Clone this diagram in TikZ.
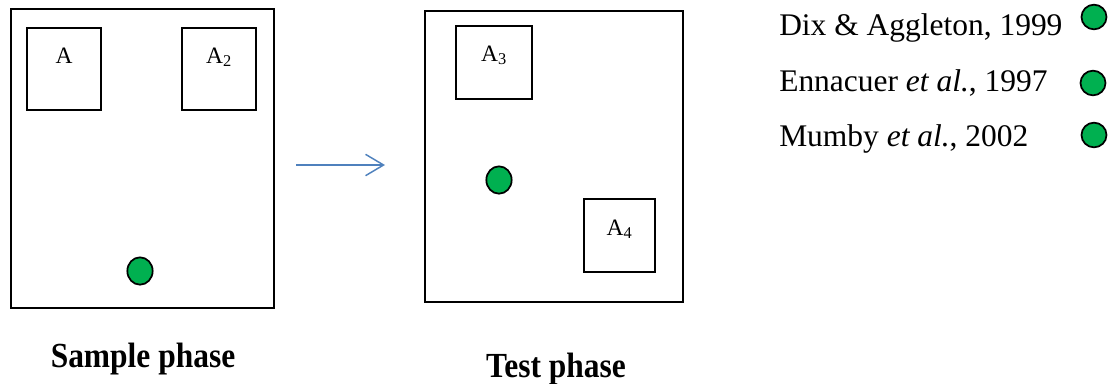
\documentclass[tikz,border=0pt]{standalone}
\usepackage{fontspec}
\setmainfont{Liberation Serif}
\usetikzlibrary{arrows.meta,shapes.geometric}
\definecolor{markgreen}{HTML}{00B050}
\definecolor{arrowblue}{HTML}{4F81BD}
\begin{document}
\begin{tikzpicture}[x=0.75pt,y=-0.75pt,
  arena/.style={draw, line width=2pt, inner sep=0pt, outer sep=0pt, anchor=north west},
  objbox/.style={draw, line width=1.3pt, inner sep=0pt, outer sep=0pt, anchor=north west},
  objlabel/.style={anchor=base, inner sep=0pt, font=\fontsize{17.6}{20}\selectfont},
  token/.style={ellipse, draw, line width=1.3pt, fill=markgreen, inner sep=0pt,
                minimum width=19pt, minimum height=20.5pt},
  keytoken/.style={ellipse, draw, line width=1.3pt, fill=markgreen, inner sep=0pt,
                minimum width=18.75pt, minimum height=18.5pt},
  keytext/.style={anchor=base west, inner sep=0pt, font=\fontsize{23.6}{28}\selectfont},
  phase/.style={anchor=base, inner sep=0pt, font=\fontsize{23.6}{28}\selectfont\bfseries},
  phasearrow/.style={draw=arrowblue, line width=1.1pt, -{Straight Barb[length=13.5pt, width=16pt]}}
]
\useasboundingbox (0,0) rectangle (1118,383);

% sample phase arena
\node[arena, minimum width=197.25pt, minimum height=224.25pt] (sample) at (11,9) {};
\node[objbox, minimum width=55.5pt, minimum height=61.5pt] (boxA) at (27,28) {};
\node[objbox, minimum width=55.5pt, minimum height=61.5pt] (boxAb) at (182,28) {};
\node[objlabel] (labA) at (64,63) {A};
\node[objlabel] (labAb) at (219,63) {A\textsubscript{2}};
\node[token] (dotS) at (140,271) {};

% transition arrow
\coordinate (arrS) at (296,165);
\coordinate (arrE) at (385,165);
\draw[phasearrow] (arrS) -- (arrE);

% test phase arena
\node[arena, minimum width=193.5pt, minimum height=218.25pt] (test) at (425,11) {};
\node[objbox, minimum width=57pt, minimum height=54.75pt] (boxAc) at (456,26) {};
\node[objbox, minimum width=53.25pt, minimum height=54.75pt] (boxAd) at (584,199) {};
\node[objlabel] (labAc) at (494,61) {A\textsubscript{3}};
\node[objlabel] (labAd) at (619.5,235) {A\textsubscript{4}};
\node[token] (dotT) at (499,180) {};

% phase captions
\node[phase] (capS) at (143,367) {\scalebox{1}[1.12]{Sample phase}};
\node[phase] (capT) at (556,377) {\scalebox{1}[1.12]{Test phase}};

% key
\node[keytext] (key1) at (779,35) {Dix \& Aggleton, 1999};
\node[keytext] (key2) at (779,91) {Ennacuer \textit{et al.}, 1997};
\node[keytext] (key3) at (779,146) {Mumby \textit{et al.}, 2002};
\node[keytoken] (dot1) at (1094,17) {};
\node[keytoken] (dot2) at (1093,83) {};
\node[keytoken] (dot3) at (1094,135) {};
\end{tikzpicture}
\end{document}
